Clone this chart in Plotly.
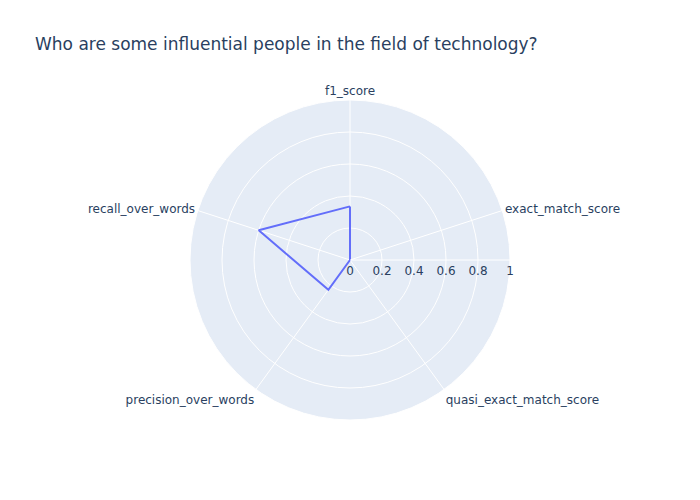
import plotly.graph_objects as go

metrics = ["f1_score", "exact_match_score", "quasi_exact_match_score",
           "precision_over_words", "recall_over_words"]
values = [0.335, 0.0, 0.0, 0.23, 0.6]

theta = metrics + metrics[:1]
r = values + values[:1]

fig = go.Figure(go.Scatterpolar(r=r, theta=theta, mode="lines",
                                line=dict(color="#636efa")))
fig.update_layout(
    font=dict(family="DejaVu Sans, Verdana, sans-serif"),
    title=dict(text="Who are some influential people in the field of technology?"),
    polar=dict(radialaxis=dict(range=[0, 1], tickvals=[0, 0.2, 0.4, 0.6, 0.8, 1]),
               angularaxis=dict(direction="clockwise", rotation=90)),
    width=700, height=500,
)
fig.write_html("out.html", config={"displayModeBar": False},
               post_script="document.body.style.margin='0';")
